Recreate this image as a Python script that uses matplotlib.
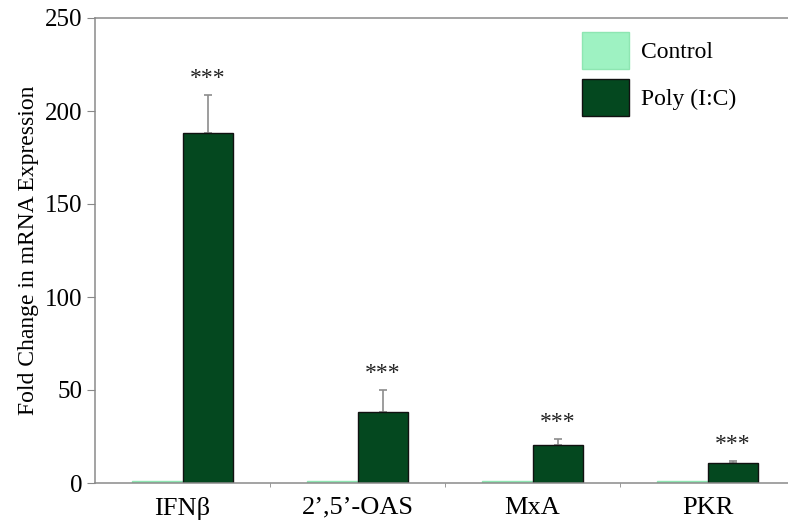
import numpy as np
import matplotlib
matplotlib.use("Agg")
import matplotlib.pyplot as plt
from matplotlib.ticker import FixedLocator

plt.rcParams["font.family"] = ["Liberation Serif", "DejaVu Serif"]

genes = ["IFN\u03b2", "2\u2019,5\u2019-OAS", "MxA", "PKR"]
control = [1.0, 1.0, 1.0, 1.0]
poly_ic = [188.0, 38.0, 20.3, 10.9]
poly_err = [20.5, 12.0, 3.3, 1.0]
stars = ["***", "***", "***", "***"]

fig = plt.figure(figsize=(7.88, 5.24), dpi=100)
ax = fig.add_axes([95 / 788, 41 / 524, 700 / 788, 465 / 524])

x = np.arange(len(genes))
w = 0.286
ax.bar(x - w / 2, control, width=w, color="#9ef2c2", edgecolor="#8ee6b2",
       linewidth=1.0, label="Control", zorder=2)
ax.bar(x + w / 2, poly_ic, width=w, color="#04481f", edgecolor="#111111",
       linewidth=1.0, label="Poly (I:C)", zorder=2)
ax.errorbar(x + w / 2, poly_ic, yerr=[np.zeros(len(poly_err)), poly_err],
            fmt="none", ecolor="#8c8c8c", elinewidth=1.2, capsize=3,
            capthick=1.2, zorder=1)

for xi, v, e, s in zip(x, poly_ic, poly_err, stars):
    ax.annotate(s, (xi + w / 2, v + e), xytext=(0, 12), textcoords="offset points",
                ha="center", va="center", fontsize=17, color="#222222")

ax.set_xlim(-0.5, len(genes) - 0.5)
ax.set_ylim(0, 250)
ax.set_yticks([0, 50, 100, 150, 200, 250])
ax.set_xticks(x)
ax.set_xticklabels(genes)
ax.xaxis.set_minor_locator(FixedLocator(x[:-1] + 0.5))
ax.tick_params(axis="x", which="major", length=0, pad=10, labelsize=19)
ax.tick_params(axis="x", which="minor", length=3, color="#888888", direction="out")
ax.tick_params(axis="y", length=6, color="#888888", direction="out", pad=3, labelsize=18)
for sp in ax.spines.values():
    sp.set_color("#8a8a8a")
    sp.set_linewidth(1.1)

ax.set_ylabel("Fold Change in mRNA Expression", fontsize=17, labelpad=4)

ax.legend(loc="upper left", bbox_to_anchor=(0.665, 1.015), frameon=False,
          fontsize=17, handlelength=2.0, handleheight=2.0, labelspacing=0.45,
          handletextpad=0.5)

fig.savefig("out.png", dpi=100)
